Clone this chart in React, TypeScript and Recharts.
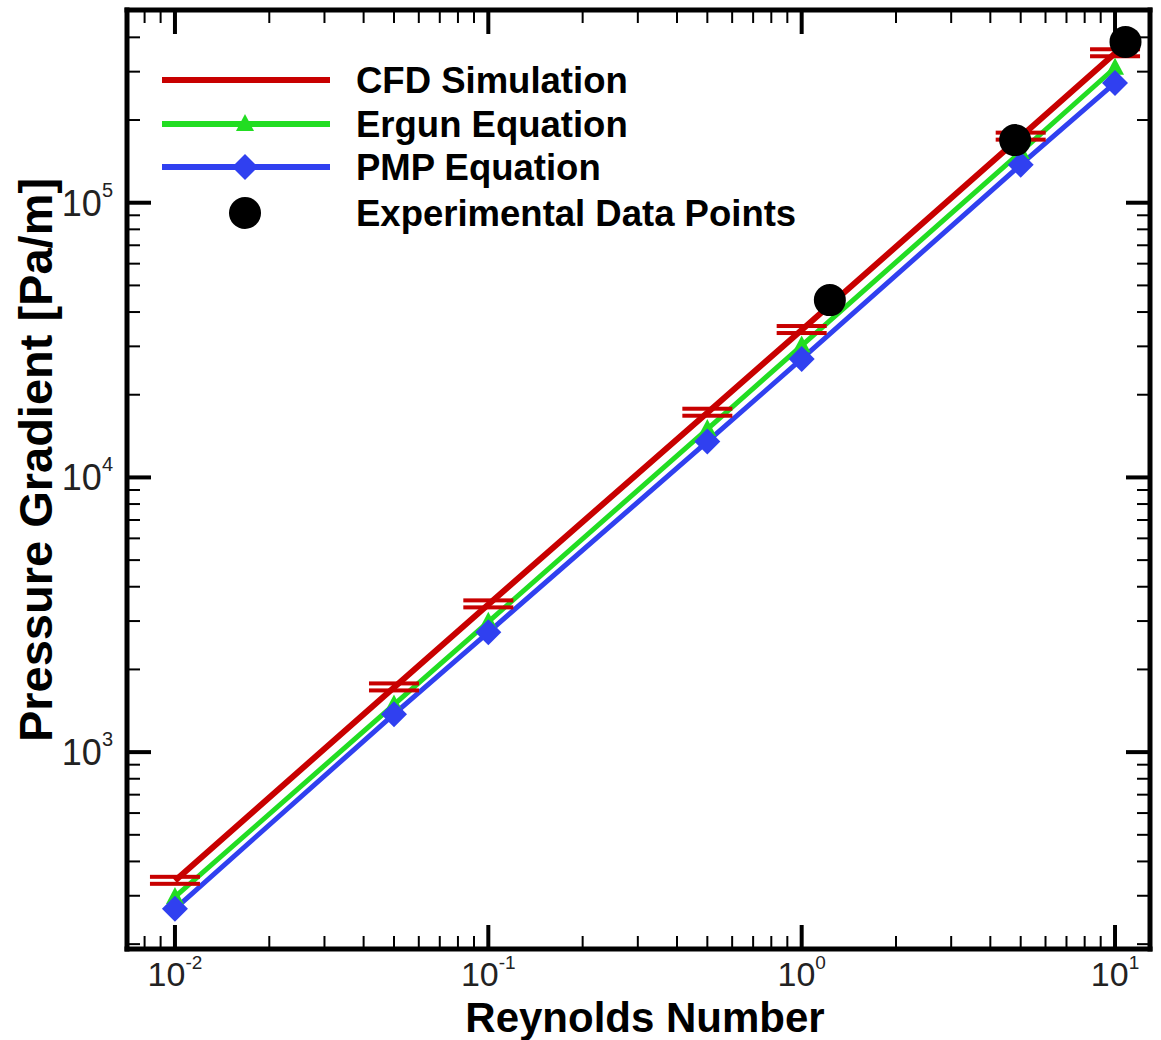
import React from 'react'
import { ComposedChart, Line, XAxis, YAxis } from 'recharts'

// Reynolds numbers where the three models were evaluated
const reynolds = [0.01, 0.05, 0.1, 0.5, 1, 5, 10]
const cfdValues = [340, 1720, 3450, 17200, 34400, 174000, 350000]
const ergunValues = [297, 1490, 2980, 15000, 30200, 153000, 310000]
const pmpValues = [269, 1375, 2730, 13500, 27000, 137500, 273000]

// experimental measurements
const expReynolds = [1.23, 4.8, 10.8]
const expValues = [44200, 169000, 385000]

// tick positions (majors get a 10^n label)
const xTicks = [
  0.008, 0.009,
  0.01, 0.02, 0.03, 0.04, 0.05, 0.06, 0.07, 0.08, 0.09,
  0.1, 0.2, 0.3, 0.4, 0.5, 0.6, 0.7, 0.8, 0.9,
  1, 2, 3, 4, 5, 6, 7, 8, 9,
  10
]
const xMajor = [0.01, 0.1, 1, 10]
const yTicks = [
  200, 300, 400, 500, 600, 700, 800, 900,
  1000, 2000, 3000, 4000, 5000, 6000, 7000, 8000, 9000,
  10000, 20000, 30000, 40000, 50000, 60000, 70000, 80000, 90000,
  100000, 200000, 300000, 400000
]
const yMajor = [1000, 10000, 100000]

const X_DOMAIN = [0.00703, 12.93]
const Y_DOMAIN = [192, 503000]

const RED = '#c80000'
const GREEN = '#22dd22'
const BLUE = '#3040f0'

const toRows = (xs: number[], ys: number[]) => xs.map((x, i) => ({ x, y: ys[i] }))
const cfdData = toRows(reynolds, cfdValues)
const ergunData = toRows(reynolds, ergunValues)
const pmpData = toRows(reynolds, pmpValues)
const expData = toRows(expReynolds, expValues)

const AXIS_LINE = { stroke: '#000', strokeWidth: 5, strokeLinecap: 'square' as const }
const FONT = '"Liberation Sans", Arial, sans-serif'

function renderTick(props: any, side: 'bottom' | 'top' | 'left' | 'right') {
  const { x, y, payload } = props
  const v = payload.value
  const major = side === 'bottom' || side === 'top' ? xMajor.includes(v) : yMajor.includes(v)
  const len = major ? 24 : 13
  const sw = major ? 4 : 2
  let line
  if (side === 'bottom') line = <line x1={x} y1={y} x2={x} y2={y - len} stroke="#000" strokeWidth={sw} />
  else if (side === 'top') line = <line x1={x} y1={y} x2={x} y2={y + len} stroke="#000" strokeWidth={sw} />
  else if (side === 'left') line = <line x1={x} y1={y} x2={x + len} y2={y} stroke="#000" strokeWidth={sw} />
  else line = <line x1={x} y1={y} x2={x - len} y2={y} stroke="#000" strokeWidth={sw} />

  let label = null
  if (major && (side === 'bottom' || side === 'left')) {
    const exp = String(Math.round(Math.log10(v)))
    if (side === 'bottom') {
      label = (
        <text x={x} y={y + 37} textAnchor="middle" fontFamily={FONT} fontSize={34} fill="#222">
          10<tspan dy={-17} fontSize={19}>{exp}</tspan>
        </text>
      )
    } else {
      label = (
        <text x={x - 14} y={y + 13} textAnchor="end" fontFamily={FONT} fontSize={36} fill="#222">
          10<tspan dy={-19} fontSize={20}>{exp}</tspan>
        </text>
      )
    }
  }
  return (
    <g>
      {line}
      {label}
    </g>
  )
}

const CfdDot = (props: any) => {
  const { cx, cy } = props
  if (cx == null || cy == null) return <g />
  return (
    <g>
      <rect x={cx - 25} y={cy - 6} width={50} height={4} fill={RED} />
      <rect x={cx - 25} y={cy + 1} width={50} height={4} fill={RED} />
    </g>
  )
}

const TriangleDot = (props: any) => {
  const { cx, cy } = props
  if (cx == null || cy == null) return <g />
  return <polygon points={`${cx},${cy - 10} ${cx + 9},${cy + 7} ${cx - 9},${cy + 7}`} fill={GREEN} />
}

const DiamondDot = (props: any) => {
  const { cx, cy } = props
  if (cx == null || cy == null) return <g />
  return <polygon points={`${cx},${cy - 13} ${cx + 13},${cy} ${cx},${cy + 13} ${cx - 13},${cy}`} fill={BLUE} />
}

const ExpDot = (props: any) => {
  const { cx, cy } = props
  if (cx == null || cy == null) return <g />
  return <circle cx={cx} cy={cy} r={16} fill="#000" />
}

function Overlay() {
  const rows = [
    { label: 'CFD Simulation', y: 80, color: RED, marker: 'none' },
    { label: 'Ergun Equation', y: 124, color: GREEN, marker: 'tri' },
    { label: 'PMP Equation', y: 167, color: BLUE, marker: 'dia' },
    { label: 'Experimental Data Points', y: 213, color: '', marker: 'circle' }
  ]
  return (
    <svg width={1161} height={1040} style={{ position: 'absolute', left: 0, top: 0, pointerEvents: 'none' }}>
      {rows.map((r) => (
        <g key={r.label}>
          {r.color && <line x1={162} y1={r.y} x2={330} y2={r.y} stroke={r.color} strokeWidth={6} />}
          {r.marker === 'tri' && <TriangleDot cx={245} cy={r.y} />}
          {r.marker === 'dia' && <DiamondDot cx={245} cy={r.y} />}
          {r.marker === 'circle' && <ExpDot cx={245} cy={r.y} />}
          <text x={356} y={r.y + 13} fontFamily={FONT} fontWeight="bold" fontSize={36.5} fill="#000">
            {r.label}
          </text>
        </g>
      ))}
      <text x={645} y={1032} textAnchor="middle" fontFamily={FONT} fontWeight="bold" fontSize={42} fill="#000">
        Reynolds Number
      </text>
      <text
        transform="translate(52, 460) rotate(-90)"
        textAnchor="middle"
        fontFamily={FONT}
        fontWeight="bold"
        fontSize={47}
        fill="#000"
      >
        Pressure Gradient [Pa/m]
      </text>
    </svg>
  )
}

export default function App() {
  return (
    <div style={{ position: 'absolute', left: 0, top: 0, width: 1161, height: 1040, background: '#fff' }}>
      <ComposedChart width={1161} height={1040} margin={{ top: 0, right: 0, bottom: 0, left: 0 }}>
        <XAxis
          xAxisId="b"
          orientation="bottom"
          type="number"
          dataKey="x"
          scale="log"
          domain={X_DOMAIN}
          allowDataOverflow
          ticks={xTicks}
          interval={0}
          height={91}
          tickSize={0}
          tickMargin={0}
          tickLine={false}
          axisLine={AXIS_LINE}
          tick={(p: any) => renderTick(p, 'bottom')}
        />
        <XAxis
          xAxisId="t"
          orientation="top"
          type="number"
          dataKey="x"
          scale="log"
          domain={X_DOMAIN}
          allowDataOverflow
          ticks={xTicks}
          interval={0}
          height={10}
          tickSize={0}
          tickMargin={0}
          tickLine={false}
          axisLine={AXIS_LINE}
          tick={(p: any) => renderTick(p, 'top')}
        />
        <YAxis
          yAxisId="l"
          orientation="left"
          type="number"
          scale="log"
          domain={Y_DOMAIN}
          allowDataOverflow
          ticks={yTicks}
          interval={0}
          width={127}
          tickSize={0}
          tickMargin={0}
          tickLine={false}
          axisLine={AXIS_LINE}
          tick={(p: any) => renderTick(p, 'left')}
        />
        <YAxis
          yAxisId="r"
          orientation="right"
          type="number"
          scale="log"
          domain={Y_DOMAIN}
          allowDataOverflow
          ticks={yTicks}
          interval={0}
          width={11}
          tickSize={0}
          tickMargin={0}
          tickLine={false}
          axisLine={AXIS_LINE}
          tick={(p: any) => renderTick(p, 'right')}
        />
        <Line
          xAxisId="b"
          yAxisId="l"
          data={cfdData}
          dataKey="y"
          stroke={RED}
          strokeWidth={6}
          dot={(p: any) => <CfdDot key={p.key} {...p} />}
          activeDot={false}
          isAnimationActive={false}
        />
        <Line
          xAxisId="b"
          yAxisId="l"
          data={ergunData}
          dataKey="y"
          stroke={GREEN}
          strokeWidth={5}
          dot={(p: any) => <TriangleDot key={p.key} {...p} />}
          activeDot={false}
          isAnimationActive={false}
        />
        <Line
          xAxisId="b"
          yAxisId="l"
          data={pmpData}
          dataKey="y"
          stroke={BLUE}
          strokeWidth={5}
          dot={(p: any) => <DiamondDot key={p.key} {...p} />}
          activeDot={false}
          isAnimationActive={false}
        />
        <Line
          xAxisId="b"
          yAxisId="l"
          data={expData}
          dataKey="y"
          stroke="none"
          dot={(p: any) => <ExpDot key={p.key} {...p} />}
          activeDot={false}
          isAnimationActive={false}
        />
      </ComposedChart>
      <Overlay />
    </div>
  )
}
